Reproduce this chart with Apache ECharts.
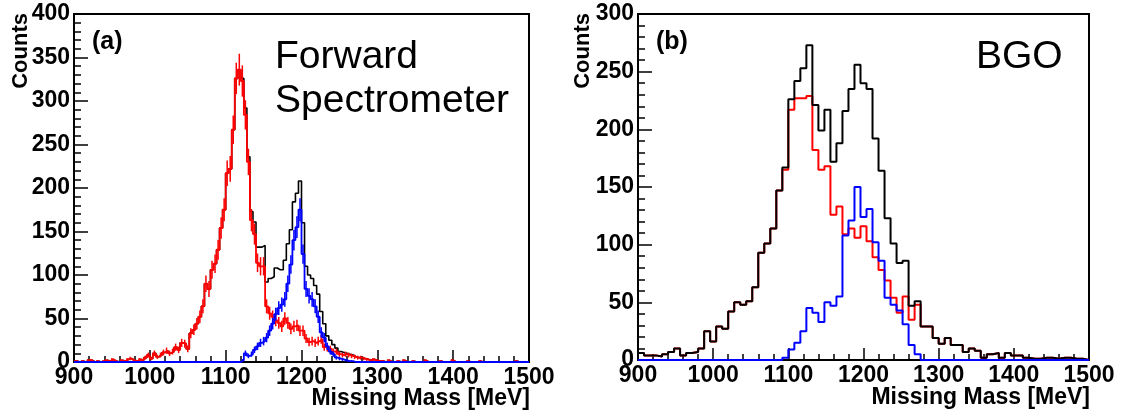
<!DOCTYPE html>
<html>
<head>
<meta charset="utf-8">
<script src="https://cdn.jsdelivr.net/npm/echarts@6/dist/echarts.min.js"></script>
<style>
html,body{margin:0;padding:0;background:#fff;}
#chart{width:1125px;height:415px;}
</style>
</head>
<body>
<div id="chart"></div>
<script>
// ---------- Panel (a): Forward Spectrometer, 4 MeV bins from 900 MeV ----------
const aBinStart = 900;
const aBinWidth = 4;
const aBlack = [
  1,0,1,0,2,2,0,1,0,1,
  2,1,3,1,0,2,1,3,4,2,
  1,3,2,5,8,4,10,6,8,11,
  13,10,12,17,14,22,21,15,33,37,
  44,52,64,90,84,106,113,129,154,175,
  217,222,267,326,336,326,292,236,173,161,
  132,132,134,92,96,98,108,106,106,117,
  136,152,184,194,208,160,110,100,96,88,
  78,58,44,30,25,20,16,12,11,10,
  9,8,6,5,5,4,3,2,3,2,
  1,1,0,2,0,0,1,0,2,0,
  0,1,0,0,0,2,0,0,0,0,
  1,0,0,0,2,0,0,0,0,1,
  0,0,0,1,0,0,0,0,0,0,
  0,0,0,0,0,1,0,0,0,0
];
const aRed = [
  1,0,1,0,2,2,0,1,0,1,
  2,1,3,1,0,2,1,3,4,2,
  1,3,2,5,8,4,10,6,8,11,
  13,10,12,17,14,22,21,15,33,37,
  44,52,64,90,84,106,113,129,154,175,
  217,222,267,326,336,323,284,230,163,147,
  114,110,110,64,56,52,48,45,41,50,
  45,38,41,42,36,36,27,23,24,22,
  24,26,17,16,15,12,12,9,8,9,
  8,7,6,5,5,4,3,2,3,2,
  1,1,0,2,0,0,1,0,2,0,
  0,1,0,0,0,2,0,0,0,0,
  1,0,0,0,2,0,0,0,0,1,
  0,0,0,1,0,0,0,0,0,0,
  0,0,0,0,0,1,0,0,0,0
];
const aBlue = [
  0,0,0,0,0,0,0,0,0,0,
  0,0,0,0,0,0,0,0,0,0,
  0,0,0,0,0,0,0,0,0,0,
  0,0,0,0,0,0,0,0,0,0,
  0,0,0,0,0,0,0,0,0,0,
  0,0,0,0,0,2,10,7,9,14,
  18,22,24,28,36,44,55,62,66,72,
  90,112,140,155,175,124,84,76,72,64,
  52,34,28,18,12,9,5,4,3,2,
  1,1,0,0,0,0,0,0,0,0,
  0,0,0,0,0,0,0,0,0,0,
  0,0,0,0,0,0,0,0,0,0,
  0,0,0,0,0,0,0,0,0,0,
  0,0,0,0,0,0,0,0,0,0,
  0,0,0,0,0,0,0,0,0,0
];

// ---------- Panel (b): BGO, 8 MeV bins from 900 MeV ----------
const bBinStart = 900;
const bBinWidth = 8;
const bBlack = [
  6,4,4,3,5,7,10,4,6,7,
  10,25,16,29,27,42,50,48,51,63,
  93,101,114,147,167,226,242,253,273,221,
  199,217,172,188,216,235,256,240,235,192,
  164,123,101,84,86,47,51,29,29,19,
  14,19,13,13,7,10,8,2,5,6,
  2,6,4,4,2,1,1,2,2,1,
  2,2,1,1,0
];
const bRed = [
  6,4,4,3,5,7,10,4,6,7,
  10,25,16,29,27,42,50,48,51,63,
  93,101,114,147,165,217,227,227,229,182,
  165,168,126,133,109,114,106,116,103,89,
  78,69,54,41,55,35,48,29,29,19,
  14,19,13,13,7,10,8,2,5,6,
  2,6,4,4,2,1,1,2,2,1,
  2,2,1,1,0
];
const bBlue = [
  0,0,0,0,0,0,0,0,0,0,
  0,0,0,0,0,0,0,0,0,0,
  0,0,0,0,2,9,15,25,45,41,
  33,50,47,55,108,121,150,124,131,102,
  86,54,48,43,31,13,5,0,0,0,
  0,0,0,0,0,0,0,0,0,0,
  0,0,0,0,0,0,0,0,0,0,
  0,0,0,0,0
];

// Axis ranges / ticks
const xMin = 900, xMax = 1500, xStep = 100;
const aYMax = 400, bYMax = 300, yStep = 50;

// ---------- helpers ----------
function stepData(values, start, width) {
  const d = values.map((v, i) => [start + i * width, v]);
  d.push([start + values.length * width, values[values.length - 1]]);
  return d;
}
function errData(values, start, width) {
  return values.map((v, i) => [start + (i + 0.5) * width, v, Math.sqrt(v)]).filter(d => d[1] > 0);
}
function errRender(color, lw) {
  return function (params, api) {
    const x = api.value(0), y = api.value(1), e = api.value(2);
    const p1 = api.coord([x, Math.max(0, y - e)]);
    const p2 = api.coord([x, y + e]);
    return { type: 'line', shape: { x1: p1[0], y1: p1[1], x2: p2[0], y2: p2[1] },
             style: { stroke: color, lineWidth: lw } };
  };
}

const FONT = '"Liberation Sans", Arial, Helvetica, sans-serif';
const plain = v => String(v);

function xAxisCfg(gi) {
  return {
    type: 'value', gridIndex: gi, min: xMin, max: xMax, interval: xStep,
    axisLine: { show: true, lineStyle: { color: '#000', width: 2 } },
    axisTick: { show: true, inside: true, length: 12, lineStyle: { color: '#000', width: 1.5 } },
    minorTick: { show: true, splitNumber: 5, length: 6, lineStyle: { color: '#000', width: 1.5 } },
    splitLine: { show: false },
    axisLabel: { color: '#000', fontFamily: FONT, fontWeight: 'bold', fontSize: 23, margin: 4,
                 formatter: plain, showMinLabel: true, showMaxLabel: true }
  };
}
function yAxisCfg(gi, max) {
  return {
    type: 'value', gridIndex: gi, min: 0, max: max, interval: yStep,
    axisLine: { show: true, lineStyle: { color: '#000', width: 2 } },
    axisTick: { show: true, inside: true, length: 14, lineStyle: { color: '#000', width: 1.5 } },
    minorTick: { show: true, splitNumber: 5, length: 7, lineStyle: { color: '#000', width: 1.5 } },
    splitLine: { show: false },
    axisLabel: { color: '#000', fontFamily: FONT, fontWeight: 'bold', fontSize: 23, margin: 4,
                 formatter: plain, showMinLabel: true, showMaxLabel: true }
  };
}
function hist(values, start, width, color, lw, xi, z) {
  return { type: 'line', step: 'end', symbol: 'none', data: stepData(values, start, width),
           xAxisIndex: xi, yAxisIndex: xi, lineStyle: { color: color, width: lw }, z: z,
           silent: true, animation: false };
}
function errs(values, start, width, color, lw, xi, z) {
  return { type: 'custom', renderItem: errRender(color, lw), data: errData(values, start, width),
           xAxisIndex: xi, yAxisIndex: xi, z: z, silent: true, animation: false,
           encode: { x: 0, y: 1 } };
}

const chart = echarts.init(document.getElementById('chart'), null, { renderer: 'canvas' });
chart.setOption({
  animation: false,
  backgroundColor: '#fff',
  grid: [
    { left: 74, top: 14, width: 455, height: 348, show: true, borderColor: '#000', borderWidth: 2, backgroundColor: 'transparent' },
    { left: 638, top: 14, width: 451, height: 346, show: true, borderColor: '#000', borderWidth: 2, backgroundColor: 'transparent' }
  ],
  xAxis: [xAxisCfg(0), xAxisCfg(1)],
  yAxis: [yAxisCfg(0, aYMax), yAxisCfg(1, bYMax)],
  series: [
    hist(aBlack, aBinStart, aBinWidth, '#000000', 1.6, 0, 2),
    hist(aRed, aBinStart, aBinWidth, '#ff0000', 1.8, 0, 3),
    errs(aRed, aBinStart, aBinWidth, '#ff0000', 1.5, 0, 3),
    hist(aBlue, aBinStart, aBinWidth, '#0000ff', 1.8, 0, 4),
    errs(aBlue, aBinStart, aBinWidth, '#0000ff', 1.5, 0, 4),
    hist(bRed, bBinStart, bBinWidth, '#ff0000', 2, 1, 2),
    hist(bBlack, bBinStart, bBinWidth, '#000000', 2, 1, 3),
    hist(bBlue, bBinStart, bBinWidth, '#0000ff', 2, 1, 4)
  ],
  graphic: [
    { type: 'text', x: 21, y: 13, rotation: Math.PI / 2,
      style: { text: 'Counts', font: 'bold 22px ' + FONT, fill: '#000', align: 'right', verticalAlign: 'middle' } },
    { type: 'text', x: 583, y: 13, rotation: Math.PI / 2,
      style: { text: 'Counts', font: 'bold 22px ' + FONT, fill: '#000', align: 'right', verticalAlign: 'middle' } },
    { type: 'text', x: 530, y: 399,
      style: { text: 'Missing Mass [MeV]', font: 'bold 23px ' + FONT, fill: '#000', align: 'right', verticalAlign: 'middle' } },
    { type: 'text', x: 1090, y: 398,
      style: { text: 'Missing Mass [MeV]', font: 'bold 23px ' + FONT, fill: '#000', align: 'right', verticalAlign: 'middle' } },
    { type: 'text', x: 92, y: 42,
      style: { text: '(a)', font: 'bold 25px ' + FONT, fill: '#000', align: 'left', verticalAlign: 'middle' } },
    { type: 'text', x: 656, y: 42,
      style: { text: '(b)', font: 'bold 25px ' + FONT, fill: '#000', align: 'left', verticalAlign: 'middle' } },
    { type: 'text', x: 275, y: 57,
      style: { text: 'Forward', font: '39px ' + FONT, fill: '#000', align: 'left', verticalAlign: 'middle' } },
    { type: 'text', x: 275, y: 101,
      style: { text: 'Spectrometer', font: '39px ' + FONT, fill: '#000', align: 'left', verticalAlign: 'middle' } },
    { type: 'text', x: 976, y: 57,
      style: { text: 'BGO', font: '39px ' + FONT, fill: '#000', align: 'left', verticalAlign: 'middle' } }
  ]
});
</script>
</body>
</html>
